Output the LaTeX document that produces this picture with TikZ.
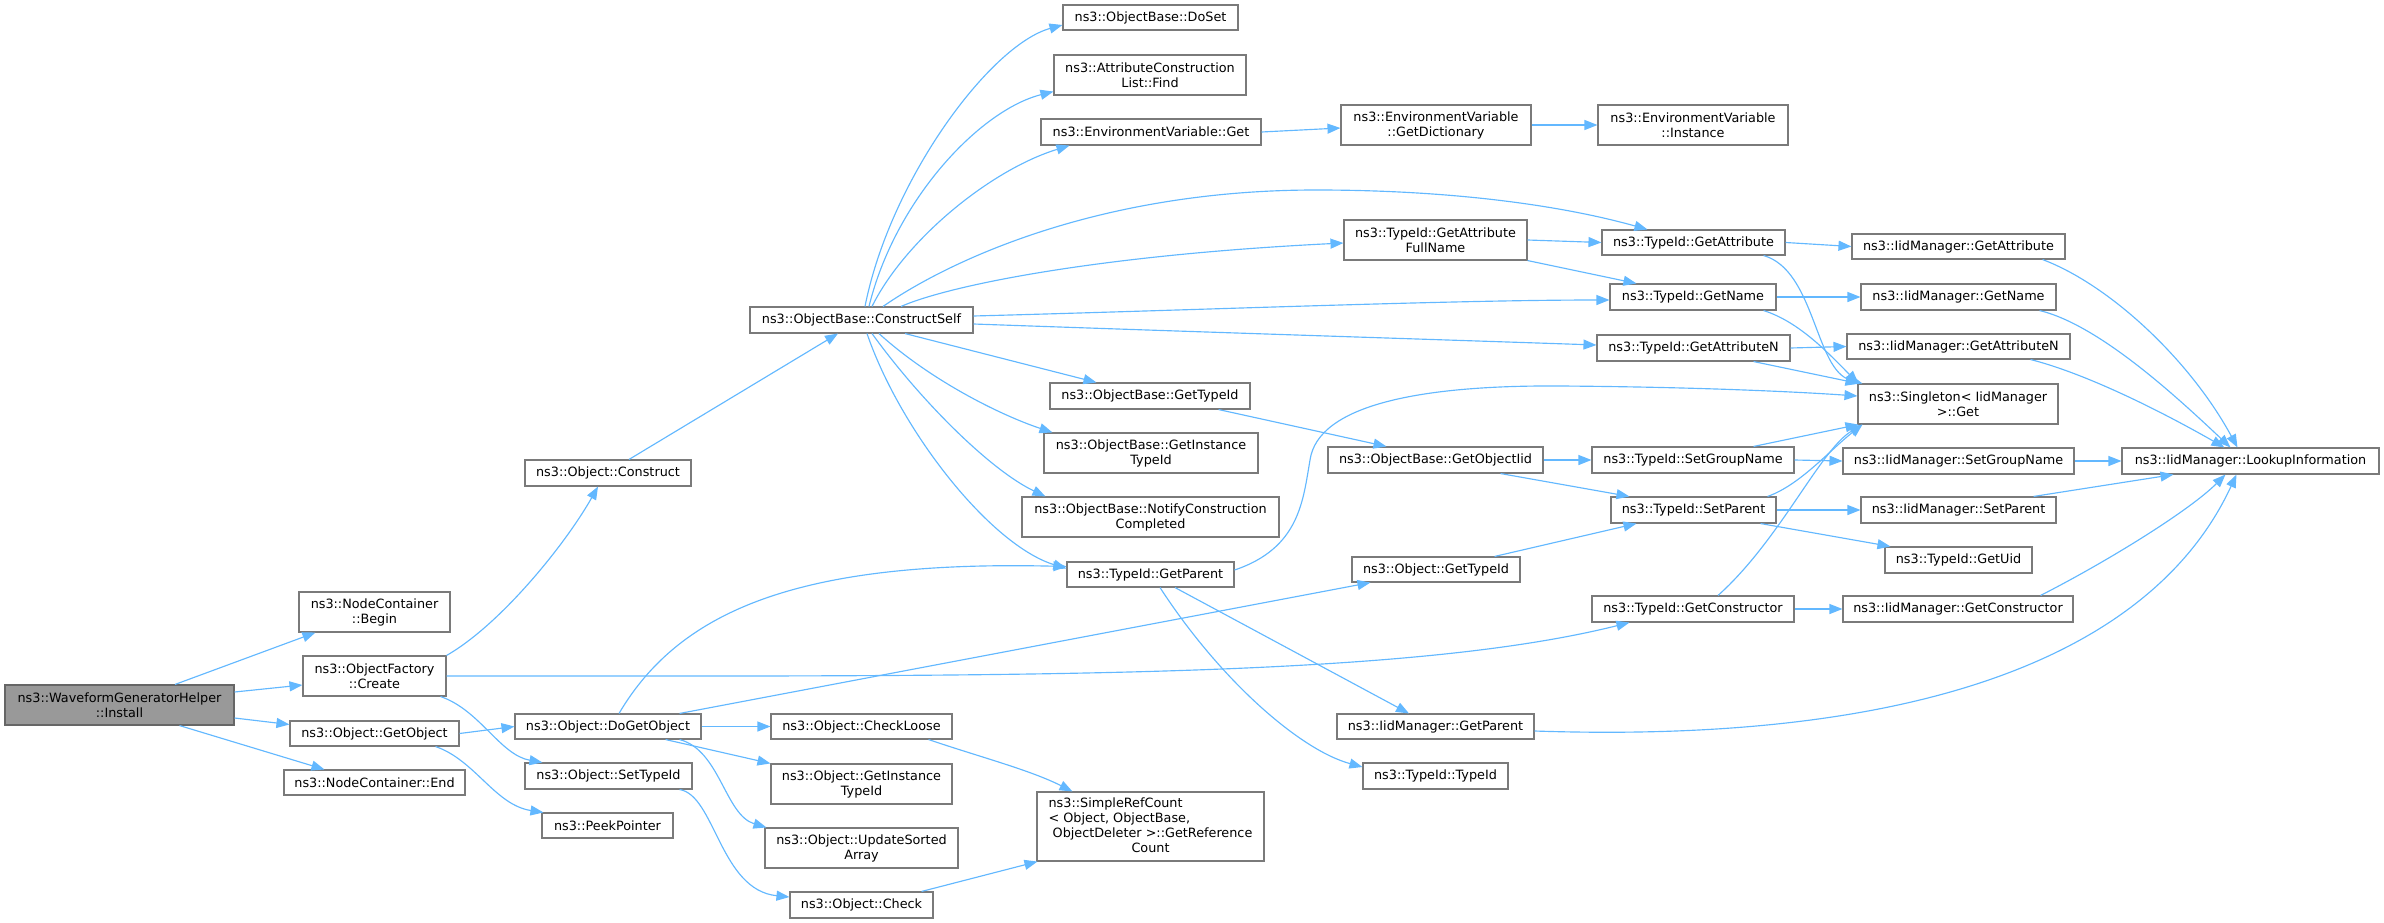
\documentclass[tikz,border=0pt]{standalone}
\usepackage{fontspec}
\newfontfamily\dvfont{DejaVu Sans}
\usetikzlibrary{arrows.meta}
\definecolor{edgeblue}{HTML}{63B8FF}
\definecolor{boxline}{HTML}{7A7A7A}
\definecolor{rootfill}{HTML}{999999}
\definecolor{rootline}{HTML}{666666}
\tikzset{
  box/.style={draw=boxline, line width=1.1pt, fill=white, inner sep=0pt, align=center,
    font=\dvfont\fontsize{12.8}{15}\selectfont},
  rootbox/.style={box, fill=rootfill, draw=rootline},
  edge/.style={draw=edgeblue, line width=1.15pt, -{Triangle[length=13pt,width=10pt]}},
}
\newcommand\dbox[7][box]{\node[#1, minimum width={(#5-#3)*1pt}, minimum height={(#6-#4)*1pt}] (#2) at ({(#3+#5)/2},{(#4+#6)/2}) {#7};}
\begin{document}
\begin{tikzpicture}[x=1pt,y=-1pt]
\useasboundingbox (0,0) rectangle (2384,923);
% column 0
\dbox[rootbox]{install}{5}{685}{234}{725}{ns3::WaveformGeneratorHelper\\::Install}
% column 1
\dbox{begin}{299}{592}{450}{632}{ns3::NodeContainer\\::Begin}
\dbox{create}{303}{656}{446}{696}{ns3::ObjectFactory\\::Create}
\dbox{getobject}{290}{721}{459}{746}{ns3::Object::GetObject}
\dbox{endn}{284}{770}{465}{795}{ns3::NodeContainer::End}
% column 2
\dbox{construct}{525}{460}{691}{486}{ns3::Object::Construct}
\dbox{doget}{515}{714}{701}{739}{ns3::Object::DoGetObject}
\dbox{settypeid}{525}{763}{692}{789}{ns3::Object::SetTypeId}
\dbox{peek}{542}{813}{673}{838}{ns3::PeekPointer}
% column 3
\dbox{cs}{750}{307}{973}{333}{ns3::ObjectBase::ConstructSelf}
\dbox{checkloose}{771}{714}{952}{739}{ns3::Object::CheckLoose}
\dbox{ogit}{771}{764}{952}{804}{ns3::Object::GetInstance\\TypeId}
\dbox{usa}{765}{828}{958}{868}{ns3::Object::UpdateSorted\\Array}
\dbox{check}{790}{892}{933}{918}{ns3::Object::Check}
% column 4
\dbox{doset}{1063}{5}{1238}{30}{ns3::ObjectBase::DoSet}
\dbox{find}{1054}{55}{1246}{95}{ns3::AttributeConstruction\\List::Find}
\dbox{envget}{1041}{119}{1261}{145}{ns3::EnvironmentVariable::Get}
\dbox{obgettypeid}{1050}{383}{1250}{409}{ns3::ObjectBase::GetTypeId}
\dbox{obgit}{1044}{433}{1258}{473}{ns3::ObjectBase::GetInstance\\TypeId}
\dbox{notify}{1022}{497}{1279}{537}{ns3::ObjectBase::NotifyConstruction\\Completed}
\dbox{tgetparent}{1067}{562}{1234}{587}{ns3::TypeId::GetParent}
\dbox{src}{1037}{792}{1264}{861}{\begin{tabular}{@{}l@{}}ns3::SimpleRefCount\\< Object, ObjectBase,\\\ ObjectDeleter >::GetReference\\\multicolumn{1}{@{}c@{}}{Count}\end{tabular}}
% column 5
\dbox{dict}{1341}{105}{1531}{145}{ns3::EnvironmentVariable\\::GetDictionary}
\dbox{gafn}{1344}{220}{1527}{260}{ns3::TypeId::GetAttribute\\FullName}
\dbox{getobjectiid}{1328}{447}{1543}{473}{ns3::ObjectBase::GetObjectIid}
\dbox{ogettypeid}{1352}{557}{1520}{582}{ns3::Object::GetTypeId}
\dbox{igetparent}{1337}{714}{1534}{739}{ns3::IidManager::GetParent}
\dbox{typeidtypeid}{1363}{763}{1508}{789}{ns3::TypeId::TypeId}
% column 6
\dbox{instance}{1598}{105}{1788}{145}{ns3::EnvironmentVariable\\::Instance}
\dbox{tgetattribute}{1602}{230}{1785}{255}{ns3::TypeId::GetAttribute}
\dbox{tgetname}{1610}{284}{1776}{310}{ns3::TypeId::GetName}
\dbox{tgetattrn}{1597}{335}{1790}{361}{ns3::TypeId::GetAttributeN}
\dbox{tsetgroupname}{1592}{447}{1794}{473}{ns3::TypeId::SetGroupName}
\dbox{tsetparent}{1611}{497}{1776}{523}{ns3::TypeId::SetParent}
\dbox{tgetconstructor}{1592}{596}{1794}{622}{ns3::TypeId::GetConstructor}
% column 7
\dbox{igetattribute}{1852}{234}{2065}{259}{ns3::IidManager::GetAttribute}
\dbox{igetname}{1861}{284}{2056}{310}{ns3::IidManager::GetName}
\dbox{igetattrn}{1847}{334}{2070}{359}{ns3::IidManager::GetAttributeN}
\dbox{singleton}{1858}{384}{2058}{424}{ns3::Singleton< IidManager\\ >::Get}
\dbox{isetgroupname}{1843}{448}{2074}{474}{ns3::IidManager::SetGroupName}
\dbox{isetparent}{1861}{497}{2056}{523}{ns3::IidManager::SetParent}
\dbox{tgetuid}{1885}{547}{2032}{573}{ns3::TypeId::GetUid}
\dbox{igetconstructor}{1843}{596}{2073}{622}{ns3::IidManager::GetConstructor}
% column 8
\dbox{lookup}{2122}{448}{2379}{474}{ns3::IidManager::LookupInformation}

% edges
\draw[edge] ([xshift=55.5pt]install.north) -- ([xshift=17pt]begin.south west);
\draw[edge] ([yshift=13pt]install.east) -- ([yshift=-9pt]create.west);
\draw[edge] ([yshift=-13pt]install.east) -- ([yshift=9pt]getobject.west);
\draw[edge] ([xshift=60pt]install.south) -- ([xshift=41pt]endn.north west);
\draw[edge] (create.north east) .. controls (500,625) and (565,545) .. ([xshift=-10pt]construct.south);
\draw[edge] (create.east) .. controls (1000,676) and (1400,680) .. ([xshift=38pt]tgetconstructor.south west);
\draw[edge] ([xshift=-6pt]create.south east) .. controls (480,710) and (500,755) .. ([xshift=18pt]settypeid.north west);
\draw[edge] (getobject.east) -- (doget.west);
\draw[edge] ([xshift=-24pt]getobject.south east) .. controls (475,760) and (495,805) .. ([xshift=2pt]peek.north west);
\draw[edge] ([xshift=21pt]construct.north) -- ([xshift=-23.5pt]cs.south);
\draw[edge] ([xshift=3.5pt]cs.north) .. controls (890,180) and (990,45) .. ([yshift=-7.5pt]doset.west);
\draw[edge] ([xshift=7.5pt]cs.north) .. controls (895,200) and (980,110) .. ([yshift=4pt]find.south west);
\draw[edge] ([xshift=10.5pt]cs.north) .. controls (905,240) and (990,170) .. ([xshift=29pt]envget.south west);
\draw[edge] ([xshift=21.5pt]cs.north) .. controls (950,260) and (1100,190) .. (1316,190) .. controls (1450,190) and (1560,205) .. ([xshift=46pt]tgetattribute.north west);
\draw[edge] ([xshift=39.5pt]cs.north) .. controls (950,285) and (1100,255) .. ([yshift=-3pt]gafn.west);
\draw[edge] ([yshift=4pt]cs.east) .. controls (1200,310) and (1450,300) .. ([yshift=-3pt]tgetname.west);
\draw[edge] ([yshift=-4pt]cs.east) .. controls (1200,332) and (1450,340) .. ([yshift=3pt]tgetattrn.west);
\draw[edge] ([xshift=43.5pt]cs.south) -- ([xshift=47pt]obgettypeid.north west);
\draw[edge] ([xshift=17.5pt]cs.south) .. controls (930,380) and (1000,415) .. ([xshift=9pt]obgit.north west);
\draw[edge] ([xshift=10.5pt]cs.south) .. controls (920,400) and (990,470) .. ([xshift=24pt]notify.north west);
\draw[edge] ([xshift=5.5pt]cs.south) .. controls (900,430) and (990,545) .. ([yshift=6pt]tgetparent.west);
\draw[edge] ([xshift=11pt]doget.north) .. controls (680,610) and (800,560) .. ([yshift=8pt]tgetparent.west);
\draw[edge] ([xshift=-22pt]doget.north east) -- ([xshift=19pt]ogettypeid.south west);
\draw[edge] (doget.east) -- (checkloose.west);
\draw[edge] ([xshift=-36pt]doget.south east) -- (ogit.north west);
\draw[edge] ([xshift=-22pt]doget.south east) .. controls (720,750) and (725,815) .. ([xshift=2pt]usa.north west);
\draw[edge] ([xshift=-13pt]settypeid.south east) .. controls (715,795) and (720,890) .. ([yshift=8pt]check.west);
\draw[edge] ([xshift=-24pt]checkloose.south east) .. controls (980,757) and (1030,770) .. ([xshift=36pt]src.north west);
\draw[edge] ([xshift=-12pt]check.north east) -- ([xshift=1pt]src.south west);
\draw[edge] (envget.east) -- ([yshift=-3pt]dict.west);
\draw[edge] (dict.east) -- (instance.west);
\draw[edge] ([xshift=-32pt]obgettypeid.south east) -- ([xshift=59pt]getobjectiid.north west);
\draw[edge] ([yshift=4.5pt]tgetparent.east) .. controls (1300,548) and (1303,500) .. (1310,460) .. controls (1318,405) and (1420,385) .. (1560,386) .. controls (1700,387) and (1800,392) .. ([yshift=8pt]singleton.west);
\draw[edge] ([xshift=24.5pt]tgetparent.south) -- ([xshift=-26.5pt]igetparent.north);
\draw[edge] ([xshift=9.5pt]tgetparent.south) .. controls (1220,680) and (1300,750) .. ([yshift=9pt]typeidtypeid.west);
\draw[edge] (gafn.east) -- (tgetattribute.west);
\draw[edge] (gafn.south east) -- ([xshift=27pt]tgetname.north west);
\draw[edge] (tgetattribute.east) -- (igetattribute.west);
\draw[edge] ([xshift=-22pt]tgetattribute.south east) .. controls (1815,270) and (1815,370) .. ([xshift=5pt]singleton.north west);
\draw[edge] (tgetname.east) -- (igetname.west);
\draw[edge] ([xshift=-13pt]tgetname.south east) .. controls (1800,322) and (1830,355) .. ([xshift=1pt]singleton.north west);
\draw[edge] (tgetattrn.east) -- (igetattrn.west);
\draw[edge] ([xshift=-37pt]tgetattrn.south east) -- ([xshift=1pt]singleton.north west);
\draw[edge] (getobjectiid.east) -- (tsetgroupname.west);
\draw[edge] ([xshift=-43pt]getobjectiid.south east) -- ([xshift=19pt]tsetparent.north west);
\draw[edge] ([xshift=-26pt]ogettypeid.north east) -- ([xshift=26pt]tsetparent.south west);
\draw[edge] ([xshift=-41pt]tsetgroupname.north east) -- ([xshift=1pt]singleton.south west);
\draw[edge] (tsetgroupname.east) -- (isetgroupname.west);
\draw[edge] ([xshift=-9pt]tsetparent.north east) .. controls (1800,485) and (1830,450) .. ([xshift=5pt]singleton.south west);
\draw[edge] (tsetparent.east) -- (isetparent.west);
\draw[edge] ([xshift=-16pt]tsetparent.south east) -- ([xshift=6pt]tgetuid.north west);
\draw[edge] ([xshift=25pt]tgetconstructor.north) .. controls (1780,540) and (1820,450) .. ([xshift=5pt]singleton.south west);
\draw[edge] (tgetconstructor.east) -- (igetconstructor.west);
\draw[edge] ([xshift=-23pt]igetattribute.south east) .. controls (2110,285) and (2190,360) .. ([xshift=116pt]lookup.north west);
\draw[edge] ([xshift=-17pt]igetname.south east) .. controls (2100,325) and (2180,400) .. ([xshift=109pt]lookup.north west);
\draw[edge] ([xshift=-40pt]igetattrn.south east) .. controls (2080,372) and (2150,405) .. ([xshift=103pt]lookup.north west);
\draw[edge] (isetgroupname.east) -- (lookup.west);
\draw[edge] ([xshift=-23pt]isetparent.north east) -- ([xshift=52pt]lookup.south west);
\draw[edge] ([xshift=-33pt]igetconstructor.north east) .. controls (2110,560) and (2190,510) .. ([xshift=104pt]lookup.south west);
\draw[edge] ([yshift=-4.5pt]igetparent.east) .. controls (1950,745) and (2160,640) .. ([xshift=115pt]lookup.south west);
\end{tikzpicture}
\end{document}
